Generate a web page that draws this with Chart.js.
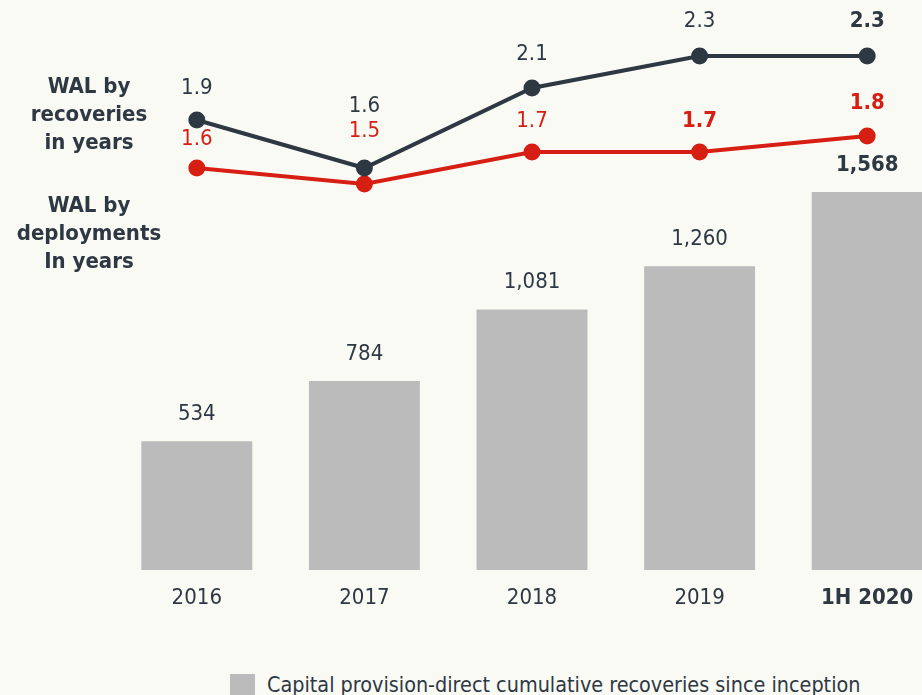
<!DOCTYPE html>
<html>
<head>
<meta charset="utf-8">
<script src="https://cdn.jsdelivr.net/npm/chart.js@4.4.0/dist/chart.umd.min.js"></script>
<style>
  html, body { margin: 0; padding: 0; background: #fafaf5; overflow: hidden; }
  #wrap { position: relative; width: 922px; height: 695px; overflow: hidden; }
  #chart { position: absolute; left: 0; top: 0; }
  .side { position: absolute; width: 180px; text-align: center; color: #2d3843;
          font: bold 22px "DejaVu Sans Condensed", "DejaVu Sans", sans-serif; line-height: 28px; }
  #legend { position: absolute; left: 230px; top: 672px; color: #2d3843;
            font: 21.4px "DejaVu Sans Condensed", "DejaVu Sans", sans-serif; white-space: nowrap; }
  #legend span.box { display: inline-block; width: 25px; height: 22px; background: #bbbbbb;
                     vertical-align: -4px; margin-right: 12px; }
</style>
</head>
<body>
<div id="wrap">
  <canvas id="chart" width="951" height="640"></canvas>
  <div class="side" style="left:-1px; top:72px;">WAL by<br>recoveries<br>in years</div>
  <div class="side" style="left:-1px; top:191px;">WAL by<br>deployments<br>In years</div>
  <div id="legend"><span class="box"></span>Capital provision-direct cumulative recoveries since inception</div>
</div>
<script>
// Chart data
const periods = ['2016', '2017', '2018', '2019', '1H 2020'];
const recoveries = [534, 784, 1081, 1260, 1568];
const walRecoveries = [1.9, 1.6, 2.1, 2.3, 2.3];
const walDeployments = [1.6, 1.5, 1.7, 1.7, 1.8];

const textColor = '#2d3843';
const redColor = '#d61f12';
const barColor = '#bbbbbb';
const numFont = '"DejaVu Sans Condensed", "DejaVu Sans", sans-serif';

// label placement (px above the mark) and emphasis
const labelStyle = {
    bars: { lift: [27, 27, 27, 27, 27], bold: [false, false, false, false, true], color: textColor },
    rec: { lift: [32, 62, 34, 35, 35], bold: [false, false, false, false, true], color: textColor },
    dep: { lift: [29, 53, 31, 31, 33], bold: [false, false, false, true, true], color: redColor }
};

const valueLabels = {
    id: 'valueLabels',
    afterDatasetsDraw(chart) {
        const ctx = chart.ctx;
        ctx.save();
        ctx.textAlign = 'center';
        ctx.textBaseline = 'middle';
        chart.data.datasets.forEach((ds, di) => {
            const style = labelStyle[ds.key];
            const meta = chart.getDatasetMeta(di);
            meta.data.forEach((el, i) => {
                const v = ds.data[i];
                const txt = ds.key === 'bars' ? v.toLocaleString('en-US') : v.toFixed(1);
                ctx.font = (style.bold[i] ? 'bold ' : '') + '22px ' + numFont;
                ctx.fillStyle = style.color;
                ctx.fillText(txt, el.x, el.y - style.lift[i]);
            });
        });
        ctx.restore();
    }
};

new Chart(document.getElementById('chart'), {
    type: 'bar',
    data: {
        labels: periods,
        datasets: [
            {
                key: 'rec',
                type: 'line',
                data: walRecoveries,
                yAxisID: 'y2',
                borderColor: textColor,
                backgroundColor: textColor,
                borderWidth: 4,
                pointRadius: 8.5,
                pointBorderWidth: 0,
                order: 0
            },
            {
                key: 'dep',
                type: 'line',
                data: walDeployments,
                yAxisID: 'y2',
                borderColor: redColor,
                backgroundColor: redColor,
                borderWidth: 4,
                pointRadius: 8.5,
                pointBorderWidth: 0,
                order: 0
            },
            {
                key: 'bars',
                label: 'Capital provision-direct cumulative recoveries since inception',
                data: recoveries,
                yAxisID: 'y',
                backgroundColor: barColor,
                borderWidth: 0,
                categoryPercentage: 1,
                barPercentage: 0.662,
                order: 1
            }
        ]
    },
    options: {
        responsive: false,
        animation: false,
        layout: { autoPadding: false, padding: { left: 113, right: 0, top: 0, bottom: 0 } },
        plugins: {
            legend: { display: false },
            tooltip: { enabled: false }
        },
        scales: {
            x: {
                grid: { display: false },
                border: { display: false },
                afterFit: (s) => { s.height = 70; },
                ticks: {
                    color: textColor,
                    padding: 7,
                    font: (c) => ({
                        family: numFont,
                        size: 22,
                        weight: c.index === 4 ? 'bold' : 'normal'
                    })
                }
            },
            y: {
                display: false,
                min: 0,
                max: 2365
            },
            y2: {
                display: false,
                min: -0.9125,
                max: 2.65
            }
        }
    },
    plugins: [valueLabels]
});
</script>
</body>
</html>
